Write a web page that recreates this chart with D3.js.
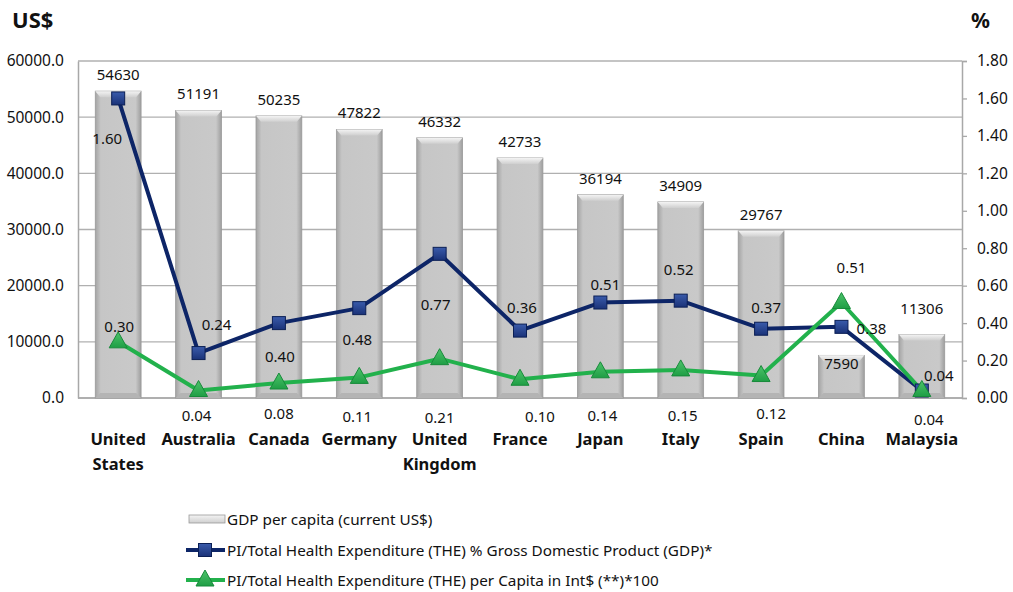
<!DOCTYPE html>
<html>
<head>
<meta charset="utf-8">
<script src="https://cdn.jsdelivr.net/npm/d3@7"></script>
<style>
  body { margin: 0; background: #fff; }
  text { font-family: "Noto Sans", "Open Sans", sans-serif; fill: #111; }
</style>
</head>
<body>
<div id="container"></div>
<script>
// chart data
let countries = ["United States", "Australia", "Canada", "Germany", "United Kingdom", "France",
                 "Japan", "Italy", "Spain", "China", "Malaysia"];
let gdpPerCapita = [54630, 51191, 50235, 47822, 46332, 42733, 36194, 34909, 29767, 7590, 11306];
let thePctGdp = [1.60, 0.24, 0.40, 0.48, 0.77, 0.36, 0.51, 0.52, 0.37, 0.38, 0.04];
let thePerCapita = [0.30, 0.04, 0.08, 0.11, 0.21, 0.10, 0.14, 0.15, 0.12, 0.51, 0.04];
let leftTicks = [0, 10000, 20000, 30000, 40000, 50000, 60000];
let rightTicks = [0, 0.2, 0.4, 0.6, 0.8, 1.0, 1.2, 1.4, 1.6, 1.8];
let legendLabels = ["GDP per capita (current US$)",
                    "PI/Total Health Expenditure (THE) % Gross Domestic Product (GDP)*",
                    "PI/Total Health Expenditure (THE) per Capita in Int$ (**)*100"];

// label placement (offsets from the point, like the hand-moved Excel labels)
let barLabelDy = [-17, -17, -17, -17, -17, -17, -17, -17, -17, 8, -26];
let blueLabelOff = [[-11, 40], [18, -29], [1, 33], [-2, 31], [-4, 50], [2, -24], [5, -19], [-2, -32], [5, -22], [30, 1], [17, -16]];
let greenLabelOff = [[1, -16], [-2, 24], [0, 30], [-2, 39], [0, 58], [20, 37], [2, 43], [2, 45], [10, 37], [10, -36], [7, 28]];

let w = 1013, h = 592;
let mLeft = 78, mRight = 962, mTop = 61, mBottom = 398;

let svg = d3.select("#container").append("svg")
  .attr("width", w).attr("height", h);

let defs = svg.append("defs");
let barGrad = defs.append("linearGradient").attr("id", "barGrad");
barGrad.append("stop").attr("offset", "0%").attr("stop-color", "#a4a4a4");
barGrad.append("stop").attr("offset", "12%").attr("stop-color", "#c6c6c6");
barGrad.append("stop").attr("offset", "88%").attr("stop-color", "#c9c9c9");
barGrad.append("stop").attr("offset", "100%").attr("stop-color", "#9e9e9e");
let capGrad = defs.append("linearGradient").attr("id", "capGrad")
  .attr("x1", 0).attr("y1", 0).attr("x2", 0).attr("y2", 1);
capGrad.append("stop").attr("offset", "0%").attr("stop-color", "#f4f4f4");
capGrad.append("stop").attr("offset", "100%").attr("stop-color", "#cfcfcf");
let sqGrad = defs.append("linearGradient").attr("id", "sqGrad")
  .attr("x1", 0).attr("y1", 0).attr("x2", 0).attr("y2", 1);
sqGrad.append("stop").attr("offset", "0%").attr("stop-color", "#3a5bab");
sqGrad.append("stop").attr("offset", "100%").attr("stop-color", "#1a3278");
let triGrad = defs.append("linearGradient").attr("id", "triGrad")
  .attr("x1", 0).attr("y1", 0).attr("x2", 0).attr("y2", 1);
triGrad.append("stop").attr("offset", "0%").attr("stop-color", "#4cc36a");
triGrad.append("stop").attr("offset", "100%").attr("stop-color", "#1f9e45");

// scales
let x = d3.scaleBand().domain(countries).range([mLeft, mRight]).paddingInner(0.43).paddingOuter(0.215);
let yL = d3.scaleLinear().domain([0, 60000]).range([mBottom, mTop]);
let yR = d3.scaleLinear().domain([0, 1.8]).range([mBottom, mTop]);
let cx = function(d) { return x(d) + x.bandwidth() / 2; };

// gridlines
svg.append("g").selectAll("line").data(leftTicks).enter().append("line")
  .attr("x1", mLeft).attr("x2", mRight)
  .attr("y1", d => yL(d)).attr("y2", d => yL(d))
  .attr("stroke", "#b0b0b0").attr("stroke-width", 1.3);

// axes
let axisL = svg.append("g").attr("transform", `translate(${mLeft},0)`)
  .call(d3.axisLeft(yL).tickValues(leftTicks).tickFormat(d3.format(".1f")).tickSize(0).tickPadding(14));
let axisR = svg.append("g").attr("transform", `translate(${mRight},0)`)
  .call(d3.axisRight(yR).tickValues(rightTicks).tickFormat(d3.format(".2f")).tickSize(5).tickPadding(10));
[axisL, axisR].forEach(function(a) {
  a.select(".domain").attr("stroke", "#a8a8a8").attr("stroke-width", 1.5);
  a.selectAll(".tick line").attr("stroke", "#a8a8a8").attr("stroke-width", 1.3);
  a.selectAll(".tick text").style("font-size", "15.5px").attr("fill", "#111")
    .style("font-family", '"Noto Sans", sans-serif');
});
svg.append("line").attr("x1", mLeft).attr("x2", mRight).attr("y1", mBottom).attr("y2", mBottom)
  .attr("stroke", "#a8a8a8").attr("stroke-width", 1.5);

// bars
let bars = svg.append("g").selectAll("g").data(countries).enter().append("g");
bars.append("rect")
  .attr("x", d => x(d)).attr("width", x.bandwidth())
  .attr("y", (d, i) => yL(gdpPerCapita[i]))
  .attr("height", (d, i) => mBottom - yL(gdpPerCapita[i]))
  .attr("fill", "url(#barGrad)").attr("stroke", "#9a9a9a").attr("stroke-width", 0.8);
bars.append("path")
  .attr("d", function(d, i) {
    let x0 = x(d), x1 = x0 + x.bandwidth(), y0 = yL(gdpPerCapita[i]);
    return `M${x0},${y0} L${x1},${y0} L${x1 - 5},${y0 + 6} L${x0 + 5},${y0 + 6} Z`;
  })
  .attr("fill", "url(#capGrad)");
bars.append("path")
  .attr("d", function(d) {
    let x0 = x(d), x1 = x0 + x.bandwidth();
    return `M${x0},${mBottom} L${x1},${mBottom} L${x1 - 5},${mBottom - 5} L${x0 + 5},${mBottom - 5} Z`;
  })
  .attr("fill", "#b4b4b4");
bars.append("text")
  .attr("x", d => cx(d))
  .attr("y", (d, i) => yL(gdpPerCapita[i]) + barLabelDy[i])
  .attr("text-anchor", "middle").attr("dominant-baseline", "central")
  .style("font-size", "15px")
  .text((d, i) => gdpPerCapita[i]);

// lines
let blueLine = d3.line().x(d => cx(d)).y((d, i) => yR(thePctGdp[i]));
let greenLine = d3.line().x(d => cx(d)).y((d, i) => yR(thePerCapita[i]));
svg.append("path").datum(countries).attr("d", blueLine)
  .attr("fill", "none").attr("stroke", "#0d2567").attr("stroke-width", 4).attr("stroke-linejoin", "round");
svg.append("path").datum(countries).attr("d", greenLine)
  .attr("fill", "none").attr("stroke", "#22b14c").attr("stroke-width", 4).attr("stroke-linejoin", "round");

function square(g, px, py) {
  g.append("rect").attr("x", px - 6.5).attr("y", py - 6.5).attr("width", 13).attr("height", 13)
    .attr("fill", "url(#sqGrad)").attr("stroke", "#0b1f55").attr("stroke-width", 1);
}
function triangle(g, px, py) {
  g.append("path").attr("d", `M${px},${py - 10} L${px + 9},${py + 6} L${px - 9},${py + 6} Z`)
    .attr("fill", "url(#triGrad)").attr("stroke", "#178a3a").attr("stroke-width", 1);
}

let markers = svg.append("g");
countries.forEach(function(c, i) {
  square(markers, cx(c), yR(thePctGdp[i]));
  triangle(markers, cx(c), yR(thePerCapita[i]));
});

let labels = svg.append("g").style("font-size", "15px");
countries.forEach(function(c, i) {
  labels.append("text")
    .attr("x", cx(c) + blueLabelOff[i][0]).attr("y", yR(thePctGdp[i]) + blueLabelOff[i][1])
    .attr("text-anchor", "middle").attr("dominant-baseline", "central")
    .text(d3.format(".2f")(thePctGdp[i]));
  labels.append("text")
    .attr("x", cx(c) + greenLabelOff[i][0]).attr("y", yR(thePerCapita[i]) + greenLabelOff[i][1])
    .attr("text-anchor", "middle").attr("dominant-baseline", "central")
    .text(d3.format(".2f")(thePerCapita[i]));
});

// category labels
let cats = svg.append("g").selectAll("text").data(countries).enter().append("text")
  .attr("x", d => cx(d)).attr("y", 445)
  .attr("text-anchor", "middle")
  .style("font-size", "16.5px").style("font-weight", "bold");
cats.each(function(d) {
  let words = d.split(" ");
  let t = d3.select(this);
  words.forEach(function(wd, k) {
    t.append("tspan").attr("x", cx(d)).attr("dy", k === 0 ? 0 : 25).text(wd);
  });
});

// axis titles
svg.append("text").attr("x", 12).attr("y", 28).style("font-size", "22px").style("font-weight", "bold").text("US$");
svg.append("text").attr("x", 971).attr("y", 28).style("font-size", "21px").style("font-weight", "bold").text("%");

// legend
let legend = svg.append("g");
let legY = [519, 550, 580];
legend.append("rect").attr("x", 189).attr("y", legY[0] - 4).attr("width", 36).attr("height", 8)
  .attr("fill", "url(#capGrad)").attr("stroke", "#9a9a9a").attr("stroke-width", 0.8);
legend.append("line").attr("x1", 186).attr("x2", 225).attr("y1", legY[1]).attr("y2", legY[1])
  .attr("stroke", "#0d2567").attr("stroke-width", 4);
square(legend, 205, legY[1]);
legend.append("line").attr("x1", 186).attr("x2", 225).attr("y1", legY[2]).attr("y2", legY[2])
  .attr("stroke", "#22b14c").attr("stroke-width", 4);
triangle(legend, 205, legY[2]);
legend.selectAll("text").data(legendLabels).enter().append("text")
  .attr("x", 227).attr("y", (d, i) => legY[i])
  .attr("dominant-baseline", "central")
  .style("font-size", "15.3px")
  .text(d => d);
</script>
</body>
</html>
